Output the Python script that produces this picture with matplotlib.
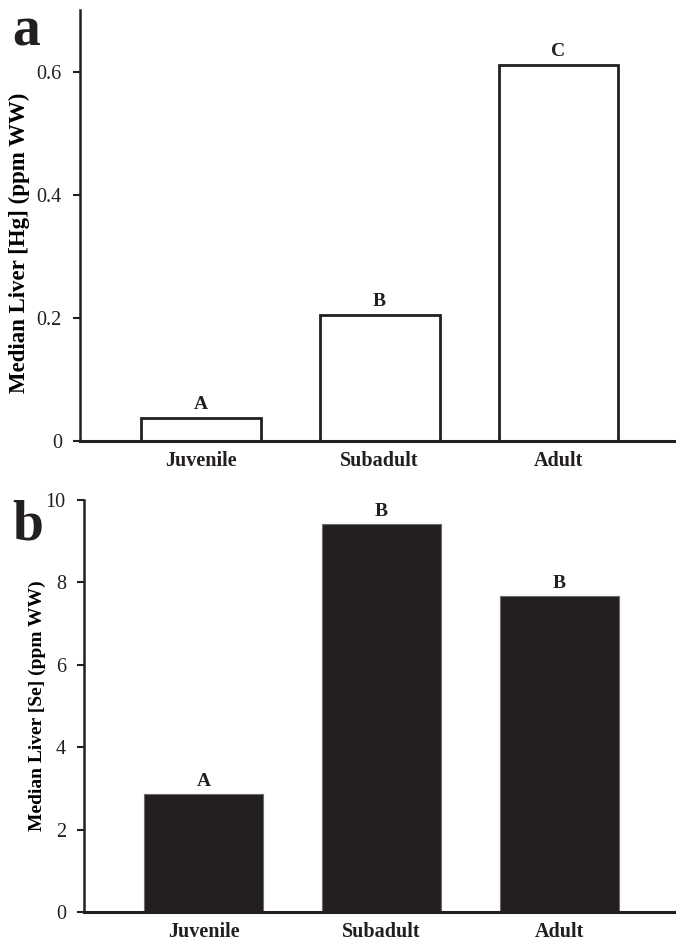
import numpy as np
import matplotlib
matplotlib.use("Agg")
import matplotlib.pyplot as plt

stages = ["Juvenile", "Subadult", "Adult"]
hg = [0.037, 0.204, 0.611]
se = [2.86, 9.41, 7.67]
hg_letters = ["A", "B", "C"]
se_letters = ["A", "B", "B"]
hg_ticks = [0, 0.2, 0.4, 0.6]
hg_ticklabels = ["0", "0.2", "0.4", "0.6"]
se_ticks = [0, 2, 4, 6, 8, 10]

dark = "#231f20"
plt.rcParams['font.family'] = ['Liberation Serif', 'DejaVu Serif']

fig = plt.figure(figsize=(6.76, 9.41), dpi=100)
ax1 = fig.add_axes([0.1183, 0.5313, 0.88, 0.4581])
ax2 = fig.add_axes([0.1240, 0.0308, 0.874, 0.4379])

x = np.arange(len(stages))
w = 0.67

# panel a - Hg
ax1.bar(x, hg, width=w, facecolor="white", edgecolor=dark, linewidth=2)
for xi, v, t in zip(x, hg, hg_letters):
    ax1.text(xi, v + 0.008, t, ha="center", va="bottom", fontsize=14, fontweight="bold", color=dark)
ax1.set_ylim(0, 0.7)
ax1.set_yticks(hg_ticks)
ax1.set_yticklabels(hg_ticklabels)
ax1.set_ylabel("Median Liver [Hg] (ppm WW)", fontsize=16.5, fontweight="bold", va="center")
ax1.yaxis.set_label_coords(-0.1025, 0.459)

# panel b - Se
ax2.bar(x, se, width=w, facecolor=dark, edgecolor="#6d6b6b", linewidth=0.8)
for xi, v, t in zip(x, se, se_letters):
    ax2.text(xi, v + 0.1, t, ha="center", va="bottom", fontsize=14, fontweight="bold", color=dark)
ax2.set_ylim(0, 10)
ax2.set_yticks(se_ticks)
ax2.set_ylabel("Median Liver [Se] (ppm WW)", fontsize=14, fontweight="bold", va="center")
ax2.yaxis.set_label_coords(-0.078, 0.5)

for ax in (ax1, ax2):
    ax.set_xlim(-0.674, 2.65)
    ax.set_xticks(x)
    ax.set_xticklabels(stages, fontsize=14.5, fontweight="bold", color=dark)
    ax.tick_params(axis="x", length=0, pad=7)
    ax.tick_params(axis="y", direction="out", length=5, width=1.5, labelsize=14.5, colors=dark, pad=8)
    ax.spines["top"].set_visible(False)
    ax.spines["right"].set_visible(False)
    ax.spines["left"].set_linewidth(1.8)
    ax.spines["bottom"].set_linewidth(2.2)
    ax.spines["left"].set_color(dark)
    ax.spines["bottom"].set_color(dark)

fig.text(0.018, 0.952, "a", fontsize=40, fontweight="bold", color=dark)
fig.text(0.018, 0.427, "b", fontsize=40, fontweight="bold", color=dark)

fig.savefig("out.png", dpi=100)
